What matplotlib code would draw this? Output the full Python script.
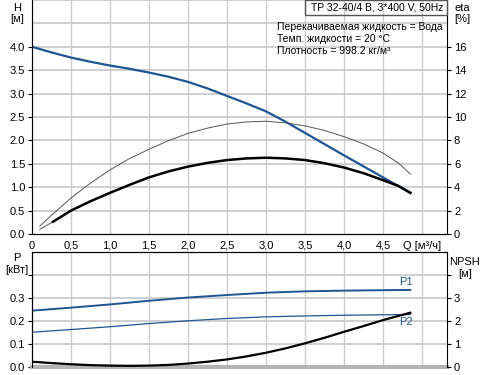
import numpy as np
import matplotlib
matplotlib.use("Agg")
import matplotlib.pyplot as plt
from matplotlib.patches import Rectangle

plt.rcParams['font.family'] = ['Liberation Sans', 'DejaVu Sans']
plt.rcParams['font.size'] = 8

# DATA ###############################################################
# head curve
q_h = [0, 0.25, 0.5, 0.75, 1.0, 1.25, 1.5, 1.75, 2.0, 2.25, 2.5, 2.75,
       3.0, 3.25, 3.5, 4.0, 4.5, 4.85]
head = [4.0, 3.88, 3.77, 3.68, 3.6, 3.53, 3.45, 3.36, 3.25, 3.11, 2.95, 2.79,
        2.62, 2.40, 2.16, 1.68, 1.21, 0.88]

# efficiency curves [%]
q_eta = [0.1, 0.25, 0.5, 0.75, 1.0, 1.25, 1.5, 1.75, 2.0, 2.25, 2.5, 2.75,
         3.0, 3.25, 3.5, 3.75, 4.0, 4.25, 4.5, 4.7, 4.85]
eta_thin = [0.68, 1.6, 3.08, 4.35, 5.48, 6.45, 7.24, 7.98, 8.6, 9.05, 9.4, 9.58,
            9.64, 9.5, 9.24, 8.85, 8.32, 7.7, 6.92, 6.05, 5.12]
q_eta2 = [0.1, 0.27, 0.5, 0.75, 1.0, 1.25, 1.5, 1.75, 2.0, 2.25, 2.5, 2.75,
          3.0, 3.25, 3.5, 3.75, 4.0, 4.25, 4.5, 4.7, 4.85]
eta_thick = [0.4, 1.05, 2.0, 2.8, 3.52, 4.2, 4.84, 5.35, 5.76, 6.08, 6.32, 6.46,
             6.52, 6.46, 6.32, 6.05, 5.68, 5.2, 4.6, 4.1, 3.52]

# power and NPSH
q_p = [0, 0.5, 1.0, 1.5, 2.0, 2.5, 3.0, 3.5, 4.0, 4.5, 4.85]
p1 = [0.245, 0.258, 0.272, 0.288, 0.302, 0.313, 0.323, 0.329, 0.332, 0.334, 0.335]
p2 = [0.151, 0.163, 0.175, 0.189, 0.201, 0.211, 0.218, 0.222, 0.225, 0.227, 0.228]
q_npsh = [0, 0.25, 0.5, 0.75, 1.0, 1.25, 1.5, 1.75, 2.0, 2.25, 2.5, 2.75,
          3.0, 3.25, 3.5, 3.75, 4.0, 4.25, 4.5, 4.85]
npsh = [0.23, 0.17, 0.12, 0.08, 0.06, 0.05, 0.06, 0.09, 0.15, 0.23, 0.33, 0.46,
        0.62, 0.81, 1.03, 1.27, 1.53, 1.78, 2.04, 2.36]

x_ticks = [0, 0.5, 1.0, 1.5, 2.0, 2.5, 3.0, 3.5, 4.0, 4.5, 5.0]
x_labels = ["0", "0,5", "1,0", "1,5", "2,0", "2,5", "3,0", "3,5", "4,0", "4,5", "Q [м³/ч]"]

BLUE = '#1f5592'
GRID = '#cccccc'
W, H = 487, 375

# FIGURE #############################################################
fig = plt.figure(figsize=(W / 100, H / 100), dpi=100)

def box(x0, y0, x1, y1):
    # pixel box -> figure fraction
    return [x0 / W, 1 - y1 / H, (x1 - x0) / W, (y1 - y0) / H]

# TOP: head + efficiency
ax1 = fig.add_axes(box(32, 0, 447, 234))
ax1.set_xlim(0, 5.32)
ax1.set_ylim(0, 5)
for v in np.arange(0.5, 5.01, 0.5):
    ax1.axvline(v, color=GRID, lw=1, zorder=0)
for v in np.arange(0.5, 5.01, 0.5):
    ax1.axhline(v, color=GRID, lw=1.3, zorder=0)
ax1.plot(q_h, head, color=BLUE, lw=1.6)
ax1.set_xticks(x_ticks)
ax1.set_xticklabels(x_labels)
ax1.tick_params(axis='x', length=0, pad=5)
ax1.set_yticks([0, 0.5, 1, 1.5, 2, 2.5, 3, 3.5, 4])
ax1.set_yticklabels(['%.1f' % v for v in [0, 0.5, 1, 1.5, 2, 2.5, 3, 3.5, 4]])
ax1.tick_params(axis='y', length=3, pad=2)
ax1.spines['top'].set_visible(False)
ax1.spines['left'].set_color('#555555')
ax1.spines['right'].set_visible(False)

ax1r = ax1.twinx()
ax1r.set_ylim(0, 20)
ax1r.plot(q_eta, eta_thin, color='#555555', lw=0.7)
ax1r.plot(q_eta2[:2], eta_thick[:2], color='#555555', lw=0.7)
ax1r.plot(q_eta2[1:], eta_thick[1:], color='black', lw=1.8)
ax1r.set_yticks(range(0, 17, 2))
ax1r.tick_params(axis='y', length=3, pad=2)
ax1r.spines['top'].set_visible(False)
ax1r.spines['right'].set_color('black')

fig.text(17 / W, 1 - 8 / H, "H", ha='center', va='center')
fig.text(17 / W, 1 - 19 / H, "[м]", ha='center', va='center')
fig.text(462 / W, 1 - 8 / H, "eta", ha='center', va='center')
fig.text(462 / W, 1 - 19 / H, "[%]", ha='center', va='center')

fig.add_artist(Rectangle((305 / W, 1 - 15 / H), 142 / W, 15 / H,
                         transform=fig.transFigure, fill=False,
                         edgecolor='#555555', lw=1))
fig.text(377 / W, 1 - 7.5 / H, "TP 32-40/4 B, 3*400 V, 50Hz",
         ha='center', va='center', fontsize=7.5)
fig.text(277 / W, 1 - 27 / H, "Перекачиваемая жидкость = Вода", va='center', fontsize=7.5)
fig.text(277 / W, 1 - 39 / H, "Темп. жидкости = 20 °C", va='center', fontsize=7.5)
fig.text(277 / W, 1 - 51 / H, "Плотность = 998.2 кг/м³", va='center', fontsize=7.5)

# BOTTOM: power + NPSH
ax2 = fig.add_axes(box(32, 252, 447, 367))
ax2.set_xlim(0, 5.32)
ax2.set_ylim(0, 0.5)
for v in np.arange(0.5, 5.01, 0.5):
    ax2.axvline(v, color=GRID, lw=1, zorder=0)
for v in [0.1, 0.2, 0.3, 0.4]:
    ax2.axhline(v, color=GRID, lw=1.3, zorder=0)
ax2.plot(q_p, p1, color=BLUE, lw=1.4)
ax2.plot(q_p, p2, color=BLUE, lw=0.9)
ax2.text(q_p[-1] - 0.05, p1[-1] + 0.012, "P1", color=BLUE, ha='center', va='bottom')
ax2.text(q_p[-1] - 0.05, p2[-1] - 0.012, "P2", color=BLUE, ha='center', va='top')
ax2.set_xticks([])
ax2.set_yticks([0, 0.1, 0.2, 0.3, 0.4])
ax2.set_yticklabels(['0.0', '0.1', '0.2', '0.3', ''])
ax2.tick_params(axis='y', length=3, pad=2)
ax2.spines['bottom'].set_color('#b4b4b4')
ax2.spines['bottom'].set_linewidth(3)
ax2.spines['right'].set_visible(False)

ax2r = ax2.twinx()
ax2r.set_ylim(0, 5)
ax2r.plot(q_npsh, npsh, color='black', lw=1.6)
ax2r.set_yticks([0, 1, 2, 3, 4])
ax2r.set_yticklabels(['0', '1', '2', '3', ''])
ax2r.tick_params(axis='y', length=3, pad=2)
ax2r.spines['bottom'].set_visible(False)
ax2r.spines['right'].set_color('black')

fig.text(17 / W, 1 - 258 / H, "P", ha='center', va='center')
fig.text(17 / W, 1 - 270 / H, "[кВт]", ha='center', va='center')
fig.text(465 / W, 1 - 262 / H, "NPSH", ha='center', va='center')
fig.text(465 / W, 1 - 274 / H, "[м]", ha='center', va='center')

plt.savefig("out.png", dpi=100)
